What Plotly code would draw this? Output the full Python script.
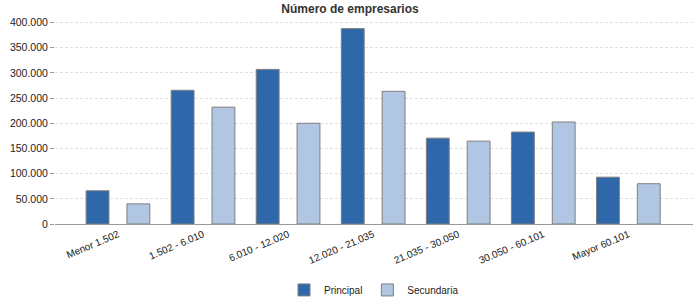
import plotly.graph_objects as go

categories = ["Menor 1.502", "1.502 - 6.010", "6.010 - 12.020", "12.020 - 21.035",
              "21.035 - 30.050", "30.050 - 60.101", "Mayor 60.101"]
principal = [66000, 265500, 307000, 388000, 170500, 182500, 93000]
secundaria = [40000, 232000, 200000, 263500, 164500, 202500, 80000]

BORDER = "#7f7f7f"
fig = go.Figure()
fig.add_bar(name="Principal", x=categories, y=principal,
            marker=dict(color="#2E67AA", line=dict(color=BORDER, width=1)))
fig.add_bar(name="Secundaria", x=categories, y=secundaria,
            marker=dict(color="#B0C6E2", line=dict(color=BORDER, width=1)))

fig.update_layout(
    width=700, height=300,
    margin=dict(l=55, r=7, t=14, b=76, autoexpand=False),
    paper_bgcolor="white", plot_bgcolor="white",
    separators=",.",
    barmode="group", bargap=0.04, bargroupgap=0.44,
    font=dict(family="Liberation Sans, Arial, sans-serif", size=11, color="#222"),
    title=dict(text="<b>Número de empresarios</b>", x=0.5, xanchor="center",
               y=0.985, yanchor="top", font=dict(size=12, color="#333")),
    showlegend=True,
    legend=dict(orientation="h", x=0.5, xanchor="center", y=-0.245, yanchor="top",
                font=dict(size=10, color="#222"), itemwidth=30, traceorder="normal"),
)
fig.update_xaxes(type="category", range=[-0.74, 6.76], tickangle=-23, automargin=False,
                 tickfont=dict(size=10, color="#222"), showgrid=False,
                 showline=True, linecolor="#999", linewidth=1, ticks="")
fig.update_yaxes(range=[0, 417000], tickvals=[0, 50000, 100000, 150000, 200000, 250000, 300000, 350000, 400000],
                 tickformat=",d", showgrid=True, gridcolor="#e0e0e0", griddash="3px,2px", gridwidth=1,
                 ticks="outside", ticklen=4, tickcolor="#999", showline=False, zeroline=False,
                 automargin=False, tickfont=dict(size=10.5, color="#222"))

fig.write_html("out.html")
